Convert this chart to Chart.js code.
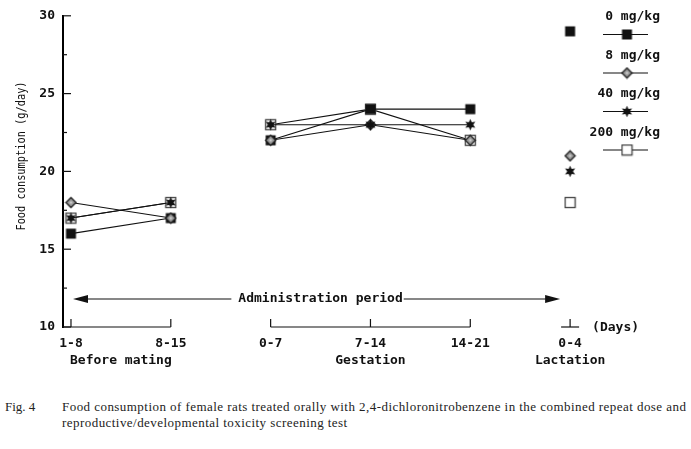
<!DOCTYPE html>
<html>
<head>
<meta charset="utf-8">
<script src="https://cdn.jsdelivr.net/npm/chart.js@4.4.1/dist/chart.umd.min.js"></script>
<style>
  html, body { margin: 0; padding: 0; background: #fff; }
  #wrap { position: relative; width: 691px; height: 449px; overflow: hidden; }
  #chart { position: absolute; left: 0; top: 0; }
  .cap { position: absolute; font-family: "Liberation Serif", "DejaVu Serif", serif; font-size: 13px; letter-spacing: 0.45px; color: #222; white-space: nowrap; }
</style>
</head>
<body>
<div id="wrap">
  <canvas id="chart" width="691" height="385"></canvas>
  <div class="cap" style="left:5px; top:399px; letter-spacing:0;">Fig. 4</div>
  <div class="cap" style="left:62px; top:399px;">Food consumption of female rats treated orally with 2,4-dichloronitrobenzene in the combined repeat dose and</div>
  <div class="cap" style="left:62px; top:415px;">reproductive/developmental toxicity screening test</div>
</div>
<script>
const periods = ["1-8", "8-15", "0-7", "7-14", "14-21", "0-4"];
const stages = ["Before mating", "Before mating", "Gestation", "Gestation", "Gestation", "Lactation"];
const doses = ["0 mg/kg", "8 mg/kg", "40 mg/kg", "200 mg/kg"];
const dose0 = [16, 17, 22, 24, 24, 29];
const dose8 = [18, 17, 22, 23, 22, 21];
const dose40 = [17, 18, 23, 23, 23, 20];
const dose200 = [17, 18, 23, 24, 22, 18];

const FONT = "'DejaVu Sans Mono', monospace";
const INK = "#111";

// little marker images, used for points and legend
function marker(draw) {
  const c = document.createElement("canvas");
  c.width = 13; c.height = 13;
  const g = c.getContext("2d");
  draw(g);
  return c;
}
const filledSquare = marker(g => { g.fillStyle = INK; g.fillRect(1.5, 1.5, 10, 10); });
const diamond = marker(g => {
  g.beginPath();
  g.moveTo(6.5, 1.5); g.lineTo(11.5, 6.5); g.lineTo(6.5, 11.5); g.lineTo(1.5, 6.5);
  g.closePath();
  g.fillStyle = "#9a9a9a"; g.fill();
  g.lineWidth = 1.4; g.strokeStyle = "#222"; g.stroke();
  g.fillStyle = "#d8d8d8"; g.fillRect(5.5, 5.5, 2, 2);
});
const star = marker(g => {
  g.beginPath();
  for (let k = 0; k < 12; k++) {
    const r = k % 2 === 0 ? 5.8 : 2.9;
    const a = -Math.PI / 2 + k * Math.PI / 6;
    g.lineTo(6.5 + r * Math.cos(a), 6.5 + r * Math.sin(a));
  }
  g.closePath();
  g.fillStyle = INK; g.fill();
});
const openSquare = marker(g => {
  g.fillStyle = "#fff"; g.fillRect(1.5, 1.5, 10, 10);
  g.lineWidth = 1.3; g.strokeStyle = "#444"; g.strokeRect(1.5, 1.5, 10, 10);
});

const styles = [filledSquare, diamond, star, openSquare];
// drawing order: open square at the bottom, then filled square, diamond, star on top
const layer = [3, 2, 1, 4];
const series = [dose0, dose8, dose40, dose200];

// lines only join periods of the same stage
const joinSegment = ctx => stages[ctx.p0DataIndex] === stages[ctx.p1DataIndex] ? INK : "rgba(0,0,0,0)";

const datasets = series.map((vals, i) => ({
  label: doses[i],
  data: vals.map((v, k) => ({ x: k, y: v })),
  order: layer[i],
  borderColor: INK,
  borderWidth: 1.1,
  pointStyle: styles[i],
  pointRadius: 5,
  fill: false,
  tension: 0,
  segment: { borderColor: joinSegment }
}));

function line(ctx, x0, y0, x1, y1) {
  ctx.beginPath(); ctx.moveTo(x0, y0); ctx.lineTo(x1, y1); ctx.stroke();
}

const decor = {
  id: "decor",
  afterDraw(chart) {
    const { ctx, chartArea: area, scales: { x, y } } = chart;
    ctx.save();
    ctx.strokeStyle = INK; ctx.fillStyle = INK; ctx.lineWidth = 1.2;

    // inward ticks on the y axis
    for (let v = 10; v <= 30; v += 2.5) {
      const py = y.getPixelForValue(v);
      line(ctx, area.left, py, area.left + (v % 5 === 0 ? 8 : 4), py);
    }

    // stage brackets along the bottom
    const base = area.bottom;
    ctx.font = "bold 13px " + FONT;
    ctx.textAlign = "center"; ctx.textBaseline = "middle";
    let i0 = 0;
    for (let i = 1; i <= stages.length; i++) {
      if (i < stages.length && stages[i] === stages[i0]) continue;
      const i1 = i - 1;
      let xa = i0 === 0 ? area.left : x.getPixelForValue(i0);
      let xb = x.getPixelForValue(i1);
      if (i0 === i1) { xa -= 9; xb += 9; }
      line(ctx, xa, base, xb, base);
      for (let k = i0; k <= i1; k++) {
        const px = x.getPixelForValue(k);
        line(ctx, px, base, px, base - 8);
      }
      const mid = (x.getPixelForValue(i0) + x.getPixelForValue(i1)) / 2;
      ctx.fillText(stages[i0], mid, base + 34);
      i0 = i;
    }
    ctx.textAlign = "left";
    ctx.fillText("(Days)", x.getPixelForValue(periods.length - 1) + 22, base + 1);

    // administration period arrow
    const ay = 299;
    const left = x.getPixelForValue(0) + 2;
    const right = x.getPixelForValue(periods.length - 1) - 10;
    const label = "Administration period";
    const tc = (x.getPixelForValue(2) + x.getPixelForValue(3)) / 2;
    const tw = ctx.measureText(label).width;
    ctx.textAlign = "center";
    ctx.fillText(label, tc, ay);
    line(ctx, left + 10, ay, tc - tw / 2 - 7, ay);
    line(ctx, tc + tw / 2 + 1, ay, right - 10, ay);
    ctx.beginPath();
    ctx.moveTo(left, ay); ctx.lineTo(left + 15, ay - 4); ctx.lineTo(left + 15, ay + 4); ctx.closePath(); ctx.fill();
    ctx.beginPath();
    ctx.moveTo(right, ay); ctx.lineTo(right - 15, ay - 4); ctx.lineTo(right - 15, ay + 4); ctx.closePath(); ctx.fill();

    // legend
    chart.data.datasets.forEach((ds, i) => {
      const ly = 17 + i * 38.5;
      ctx.textAlign = "right";
      ctx.fillText(ds.label, 660, ly);
      line(ctx, 603, ly + 17.5, 648, ly + 17.5);
      ctx.drawImage(ds.pointStyle, 627 - 6.5, ly + 17.5 - 6.5);
    });

    // y axis title
    ctx.translate(22, 156);
    ctx.rotate(-Math.PI / 2);
    ctx.scale(0.86, 1);
    ctx.font = "12px " + FONT;
    ctx.textAlign = "center";
    ctx.fillText("Food consumption (g/day)", 0, 0);
    ctx.restore();
  }
};

Chart.defaults.font.family = FONT;
Chart.defaults.font.size = 13;
Chart.defaults.font.weight = "bold";
Chart.defaults.color = INK;

new Chart(document.getElementById("chart"), {
  type: "line",
  data: { datasets },
  options: {
    responsive: false,
    animation: false,
    layout: { padding: { top: 10, left: 0, right: 0, bottom: 0 } },
    plugins: { legend: { display: false }, tooltip: { enabled: false } },
    elements: { point: { hoverRadius: 5 } },
    clip: false,
    scales: {
      x: {
        type: "linear",
        min: -0.08,
        max: 6.15,
        grid: { display: false, drawTicks: false },
        border: { display: false },
        afterBuildTicks: scale => { scale.ticks = periods.map((p, i) => ({ value: i })); },
        afterFit: scale => { scale.height = 58; },
        ticks: { padding: 9, maxRotation: 0, callback: v => periods[Math.round(v)] }
      },
      y: {
        min: 10,
        max: 30,
        grid: { display: false, drawTicks: false },
        border: { display: true, color: "#000", width: 2 },
        afterFit: scale => { scale.width = 63; },
        ticks: { stepSize: 5, padding: 8 }
      }
    }
  },
  plugins: [decor]
});
</script>
</body>
</html>
